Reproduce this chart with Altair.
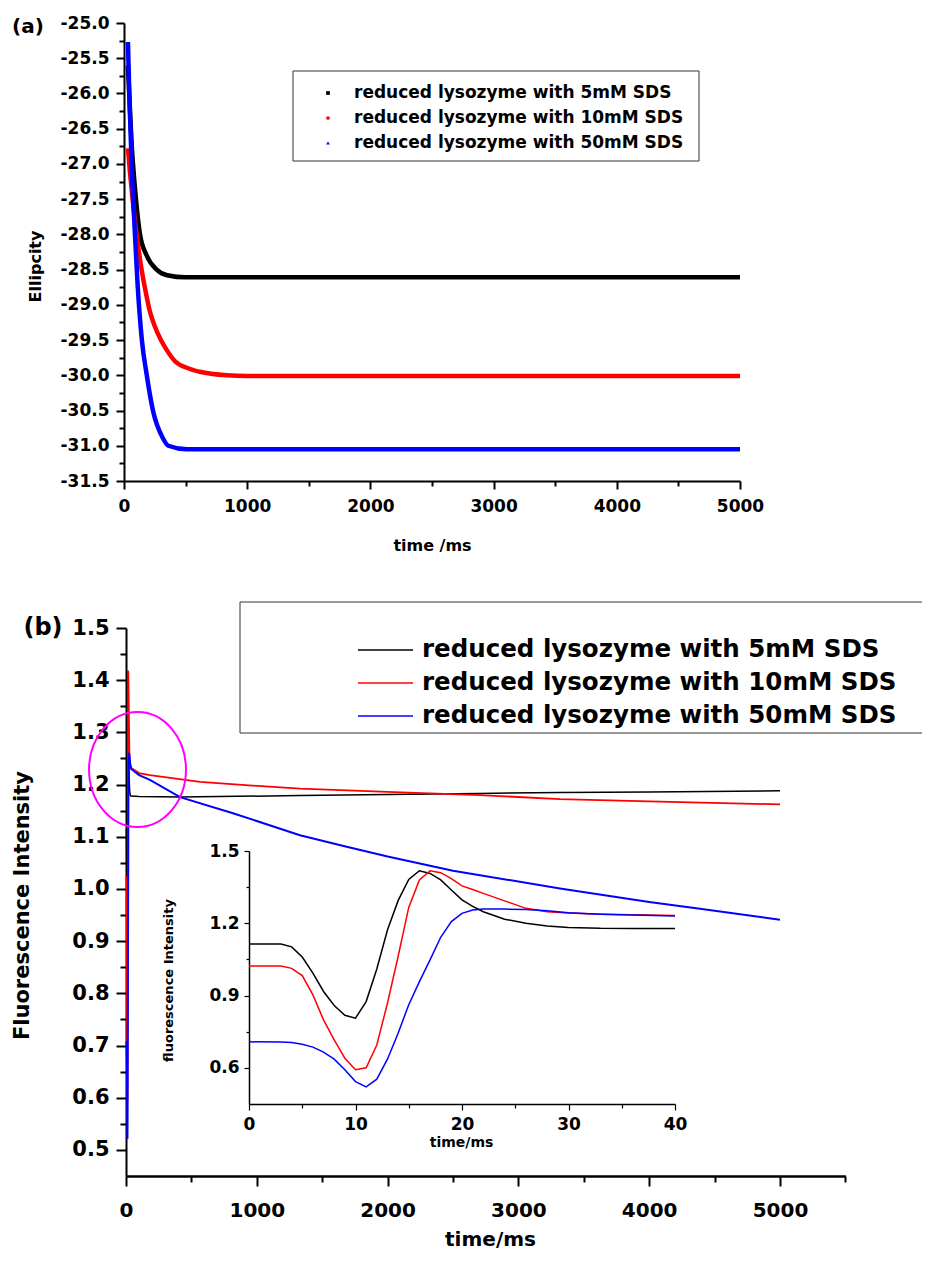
import altair as alt
import pandas as pd

SERIES = ["reduced lysozyme with 5mM SDS", "reduced lysozyme with 10mM SDS", "reduced lysozyme with 50mM SDS"]
COLORS = ["#000000", "#ff0000", "#0000ff"]
SHAPES_A = ["square", "circle", "triangle-up"]
PANEL_LABELS = ["(a)", "(b)"]

# ---------- panel (a): ellipticity vs time ----------
a_t_5 = [32, 50, 65, 73, 97, 130, 184, 265, 350, 500, 1000, 2000, 3000, 4000, 5000]
a_v_5 = [-25.6, -26.3, -26.8, -27.0, -27.5, -28.0, -28.3, -28.5, -28.58, -28.61, -28.61, -28.61, -28.61, -28.61, -28.61]
a_t_10 = [32, 50, 70, 102, 143, 180, 211, 249, 300, 350, 414, 520, 615, 833, 1000, 2000, 3000, 4000, 5000]
a_v_10 = [-26.78, -27.15, -27.5, -28.0, -28.5, -28.85, -29.1, -29.3, -29.5, -29.65, -29.8, -29.9, -29.95, -30.0, -30.01, -30.01, -30.01, -30.01, -30.01]
a_t_50 = [32, 43, 62, 89, 110, 145, 185, 235, 318, 360, 510, 1000, 2000, 3000, 4000, 5000]
a_v_50 = [-25.27, -26.0, -27.0, -28.0, -28.7, -29.5, -30.0, -30.5, -30.9, -31.0, -31.05, -31.05, -31.05, -31.05, -31.05, -31.05]

# ---------- inset (b): first 40 ms ----------
in_t = [0, 3, 4, 5, 6, 7, 8, 9, 10, 11, 12, 13, 14, 15, 16, 17, 18, 19, 20, 21, 22, 24, 26, 28, 30, 33, 36, 40]
in_v_5 = [1.114, 1.114, 1.102, 1.060, 0.993, 0.917, 0.859, 0.818, 0.806, 0.875, 1.010, 1.172, 1.294, 1.382, 1.418, 1.407, 1.380, 1.338, 1.297, 1.270, 1.248, 1.217, 1.200, 1.189, 1.183, 1.179, 1.178, 1.178]
in_v_10 = [1.023, 1.023, 1.013, 0.983, 0.903, 0.799, 0.716, 0.640, 0.592, 0.600, 0.695, 0.868, 1.062, 1.266, 1.380, 1.418, 1.410, 1.385, 1.355, 1.340, 1.324, 1.293, 1.262, 1.248, 1.243, 1.238, 1.235, 1.232]
in_v_50 = [0.708, 0.707, 0.705, 0.698, 0.686, 0.665, 0.636, 0.592, 0.543, 0.521, 0.553, 0.636, 0.744, 0.862, 0.958, 1.048, 1.142, 1.207, 1.241, 1.255, 1.259, 1.259, 1.257, 1.252, 1.244, 1.238, 1.234, 1.230]

# ---------- panel (b): later part of the traces ----------
b_t_5 = [100, 413, 1330, 2000, 2700, 3318, 4000, 5000]
b_v_5 = [1.177, 1.176, 1.179, 1.181, 1.183, 1.185, 1.186, 1.188]
b_t_10 = [100, 183, 566, 1330, 2000, 2700, 3318, 4000, 5000]
b_v_10 = [1.222, 1.218, 1.205, 1.192, 1.186, 1.180, 1.172, 1.168, 1.162]
b_t_50 = [100, 183, 413, 818, 1330, 1687, 2000, 2500, 3318, 4000, 4388, 5000]
b_v_50 = [1.218, 1.209, 1.176, 1.145, 1.103, 1.081, 1.062, 1.035, 1.001, 0.975, 0.962, 0.941]

ELLIPSE_T = [88]
ELLIPSE_V = [1.229]

# axis tick values
A_X_MAJOR = [0, 1000, 2000, 3000, 4000, 5000]
A_X_MINOR = [500, 1500, 2500, 3500, 4500]
A_Y_MAJOR = [-25.0, -25.5, -26.0, -26.5, -27.0, -27.5, -28.0, -28.5, -29.0, -29.5, -30.0, -30.5, -31.0, -31.5]
A_Y_MINOR = [-25.25, -25.75, -26.25, -26.75, -27.25, -27.75, -28.25, -28.75, -29.25, -29.75, -30.25, -30.75, -31.25]
B_X_MAJOR = [0, 1000, 2000, 3000, 4000, 5000]
B_X_MINOR = [500, 1500, 2500, 3500, 4500, 5500]
B_Y_MAJOR = [0.5, 0.6, 0.7, 0.8, 0.9, 1.0, 1.1, 1.2, 1.3, 1.4, 1.5]
B_Y_MINOR = [0.55, 0.65, 0.75, 0.85, 0.95, 1.05, 1.15, 1.25, 1.35, 1.45]
I_X_MAJOR = [0, 10, 20, 30, 40]
I_X_MINOR = [5, 15, 25, 35]
I_Y_MAJOR = [0.6, 0.9, 1.2, 1.5]
I_Y_MINOR = [0.75, 1.05, 1.35]

FONT = "DejaVu Sans"
W, H = 914, 1244


def frame(pairs):
    rows = []
    for name, ts, vs in pairs:
        for t, v in zip(ts, vs):
            rows.append({"t": t, "v": v, "series": name})
    return pd.DataFrame(rows)


df_a = frame([(SERIES[0], a_t_5, a_v_5), (SERIES[1], a_t_10, a_v_10), (SERIES[2], a_t_50, a_v_50)])
df_in = frame([(SERIES[0], in_t, in_v_5), (SERIES[1], in_t, in_v_10), (SERIES[2], in_t, in_v_50)])
df_b = frame([(SERIES[0], in_t + b_t_5, in_v_5 + b_v_5),
              (SERIES[1], in_t + b_t_10, in_v_10 + b_v_10),
              (SERIES[2], in_t + b_t_50, in_v_50 + b_v_50)])
df_leg = pd.DataFrame({"series": SERIES})
df_ell = pd.DataFrame({"t": ELLIPSE_T, "v": ELLIPSE_V})
df_one = pd.DataFrame({"k": [0]})


def sc(domain, rng):
    return alt.Scale(domain=domain, range=rng, nice=False, zero=False)


A_X = sc([0, 5000], [116, 732])
A_Y = sc([-31.5, -25.0], [473, 15])
B_X = sc([0, 5500], [118, 837.4])
B_Y = sc([0.45, 1.5], [1168, 620])
I_X = sc([0, 40], [241, 667])
I_Y = sc([0.45, 1.5], [1096, 843])

COLOR = alt.Scale(domain=SERIES, range=COLORS)
HYPHEN_EXPR = "replace(datum.label, '\u2212', '-')"


def major(values, fmt, orient, offset, fs, tick, pad, title, tx, ty, tfs, width=2, dwidth=2, tweight="bold"):
    return alt.Axis(values=values, format=fmt, orient=orient, offset=offset,
                    labelExpr=HYPHEN_EXPR,
                    labelFont=FONT, labelFontSize=fs, labelFontWeight="bold", labelColor="black",
                    labelPadding=pad, labelFlush=False, labelOverlap=False,
                    tickSize=tick, tickWidth=width, tickColor="black",
                    domainColor="black", domainWidth=dwidth, grid=False,
                    title=title, titleFont=FONT, titleFontSize=tfs, titleFontWeight=tweight,
                    titleColor="black", titleX=tx, titleY=ty,
                    titleAngle=270 if orient == "left" else 0,
                    titleBaseline="middle", titleAlign="center")


def minor(values, orient, offset, tick, width=2):
    return alt.Axis(values=values, orient=orient, offset=offset, labels=False, domain=False,
                    tickSize=tick, tickWidth=width, tickColor="black", grid=False, title=None)


# ---- panel (a)
a_lines = alt.Chart(df_a).mark_line(strokeWidth=4.5, interpolate="monotone").encode(
    x=alt.X("t:Q", scale=A_X, axis=major(A_X_MAJOR, "d", "bottom", 473 - H, 17, 8, 9, "time /ms", 424, 64, 16)),
    y=alt.Y("v:Q", scale=A_Y, axis=major(A_Y_MAJOR, ".1f", "left", -116, 17, 8, 7, "Ellipcity", -89, 258, 16)),
    color=alt.Color("series:N", scale=COLOR, legend=None),
)
a_minor = alt.Chart(df_a).mark_point(opacity=0).encode(
    x=alt.X("t:Q", scale=A_X, axis=minor(A_X_MINOR, "bottom", 473 - H, 5)),
    y=alt.Y("v:Q", scale=A_Y, axis=minor(A_Y_MINOR, "left", -116, 5)),
)
a_box = alt.Chart(df_one).mark_rect(fill="white", stroke="#333333", strokeWidth=1).encode(
    x=alt.value(285), x2=alt.value(691), y=alt.value(63), y2=alt.value(153))
LEG_A_Y = alt.Scale(type="point", domain=SERIES, range=[85, 135], padding=0)
a_leg_pts = alt.Chart(df_leg).mark_point(filled=True, size=14, opacity=1).encode(
    x=alt.value(320),
    y=alt.Y("series:N", scale=LEG_A_Y, axis=None),
    color=alt.Color("series:N", scale=COLOR, legend=None),
    shape=alt.Shape("series:N", scale=alt.Scale(domain=SERIES, range=SHAPES_A), legend=None),
)
a_leg_txt = alt.Chart(df_leg).mark_text(align="left", baseline="middle", font=FONT, fontSize=17,
                                        fontWeight="bold", color="black").encode(
    x=alt.value(346), y=alt.Y("series:N", scale=LEG_A_Y, axis=None), text="series:N")
a_label = alt.Chart(pd.DataFrame({"label": PANEL_LABELS[:1]})).mark_text(
    font=FONT, fontSize=20, fontWeight="bold", color="black", align="center", baseline="middle").encode(
    x=alt.value(20), y=alt.value(19), text="label:N")

# ---- panel (b)
b_lines = alt.Chart(df_b).mark_line().encode(
    x=alt.X("t:Q", scale=B_X, axis=major(B_X_MAJOR, "d", "bottom", 1168 - H, 20, 10, 14, "time/ms", 482, 63, 20, 2, 2.5)),
    y=alt.Y("v:Q", scale=B_Y, axis=major(B_Y_MAJOR, ".1f", "left", -118, 21, 10, 7, "Fluorescence Intensity", -104, 897, 21, 2, 2)),
    color=alt.Color("series:N", scale=COLOR, legend=None),
    strokeWidth=alt.StrokeWidth("series:N", scale=alt.Scale(domain=SERIES, range=[1.5, 2, 3]), legend=None),
)
b_minor = alt.Chart(df_b).mark_point(opacity=0).encode(
    x=alt.X("t:Q", scale=B_X, axis=minor(B_X_MINOR, "bottom", 1168 - H, 6)),
    y=alt.Y("v:Q", scale=B_Y, axis=minor(B_Y_MINOR, "left", -118, 6)),
)
ELLIPSE_PATH = ("M0.843,0C0.843,0.552 0.466,1 0,1C-0.466,1 -0.843,0.552 -0.843,0"
                "C-0.843,-0.552 -0.466,-1 0,-1C0.466,-1 0.843,-0.552 0.843,0Z")
b_ellipse = alt.Chart(df_ell).mark_point(shape=ELLIPSE_PATH, size=13225, filled=False,
                                         stroke="#ff00ff", strokeWidth=2, opacity=1).encode(
    x=alt.X("t:Q", scale=B_X, axis=None), y=alt.Y("v:Q", scale=B_Y, axis=None))

in_lines = alt.Chart(df_in).mark_line(strokeWidth=1.5).encode(
    x=alt.X("t:Q", scale=I_X, axis=major(I_X_MAJOR, "d", "bottom", 1096 - H, 17, 6, 6, "time/ms", 453, 38, 14, 1.2, 1.5)),
    y=alt.Y("v:Q", scale=I_Y, axis=major(I_Y_MAJOR, ".1f", "left", -241, 17, 5, 5, "fluorescence Intensity", -81, 972, 13, 1.2, 1.5)),
    color=alt.Color("series:N", scale=COLOR, legend=None),
)
in_minor = alt.Chart(df_in).mark_point(opacity=0).encode(
    x=alt.X("t:Q", scale=I_X, axis=minor(I_X_MINOR, "bottom", 1096 - H, 4, 1.2)),
    y=alt.Y("v:Q", scale=I_Y, axis=minor(I_Y_MINOR, "left", -241, 3, 1.2)),
)

# legend (b): open box running off the right edge
box_style = dict(stroke="#333333", strokeWidth=1)
b_box_top = alt.Chart(df_one).mark_rule(**box_style).encode(x=alt.value(232), x2=alt.value(990), y=alt.value(594))
b_box_bottom = alt.Chart(df_one).mark_rule(**box_style).encode(x=alt.value(232), x2=alt.value(990), y=alt.value(725))
b_box_left = alt.Chart(df_one).mark_rule(**box_style).encode(x=alt.value(232), y=alt.value(594), y2=alt.value(725))
LEG_B_Y = alt.Scale(type="point", domain=SERIES, range=[642, 708], padding=0)
b_leg_rules = alt.Chart(df_leg).mark_rule(strokeWidth=1.5).encode(
    x=alt.value(350), x2=alt.value(405),
    y=alt.Y("series:N", scale=LEG_B_Y, axis=None),
    color=alt.Color("series:N", scale=COLOR, legend=None),
)
b_leg_txt = alt.Chart(df_leg).mark_text(align="left", baseline="middle", font=FONT, fontSize=24.5,
                                        fontWeight="bold", color="black").encode(
    x=alt.value(414), y=alt.Y("series:N", scale=LEG_B_Y, axis=None), text="series:N")
b_label = alt.Chart(pd.DataFrame({"label": PANEL_LABELS[1:]})).mark_text(
    font=FONT, fontSize=24, fontWeight="bold", color="black", align="center", baseline="middle").encode(
    x=alt.value(35), y=alt.value(620), text="label:N")

chart = alt.layer(
    a_lines, a_minor, a_box, a_leg_pts, a_leg_txt, a_label,
    b_box_top, b_box_bottom, b_box_left, b_leg_rules, b_leg_txt,
    b_lines, b_minor, b_ellipse, in_lines, in_minor, b_label,
).resolve_scale(x="independent", y="independent").properties(
    width=W, height=H, padding=0, autosize=alt.AutoSizeParams(type="none"),
).configure_view(stroke=None)

chart.save("out.html", embed_options={"renderer": "svg", "actions": False})
